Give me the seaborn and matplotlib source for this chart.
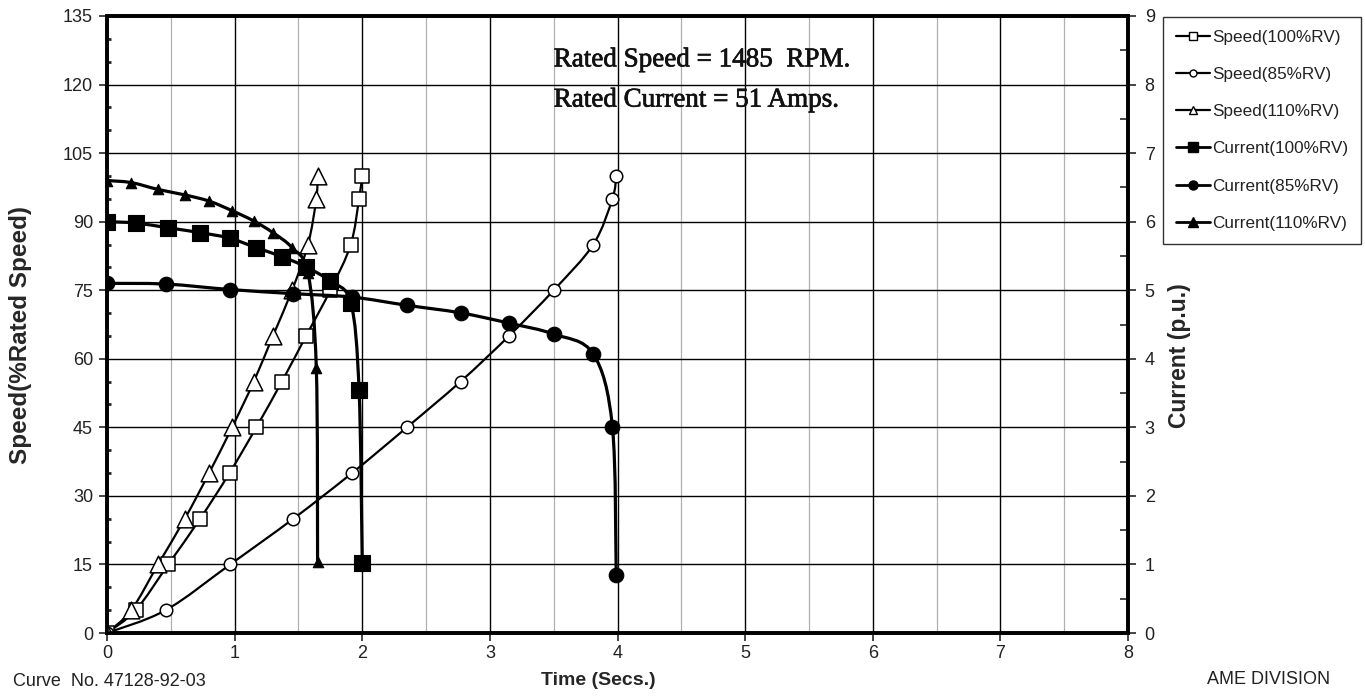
import numpy as np
import pandas as pd
import matplotlib
matplotlib.use("Agg")
import matplotlib.pyplot as plt
from matplotlib.path import Path
from matplotlib.patches import PathPatch
from matplotlib.lines import Line2D
from matplotlib.ticker import MultipleLocator
import matplotlib.patheffects as pe
import seaborn as sns

# ---------------- data ----------------
speed_levels = [0, 5, 15, 25, 35, 45, 55, 65, 75, 85, 95, 100]

time_100 = [0, 0.225, 0.48, 0.73, 0.96, 1.17, 1.37, 1.56, 1.75, 1.91, 1.975, 2.0]
speed_100 = speed_levels
current_100 = [6.0, 5.98, 5.91, 5.84, 5.76, 5.62, 5.49, 5.34, 5.13, 4.82, 3.55, 1.02]

time_85 = [0, 0.46, 0.965, 1.46, 1.92, 2.35, 2.77, 3.15, 3.50, 3.81, 3.96, 3.99]
speed_85 = speed_levels
current_85 = [5.10, 5.09, 5.01, 4.95, 4.90, 4.78, 4.67, 4.52, 4.36, 4.07, 3.01, 0.85]

time_110 = [0, 0.19, 0.40, 0.61, 0.80, 0.98, 1.15, 1.30, 1.45, 1.575, 1.64, 1.65]
speed_110 = speed_levels
current_110 = [6.6, 6.57, 6.47, 6.39, 6.30, 6.16, 6.01, 5.84, 5.62, 5.25, 3.87, 1.04]

series_names = ["Speed(100%RV)", "Speed(85%RV)", "Speed(110%RV)",
                "Current(100%RV)", "Current(85%RV)", "Current(110%RV)"]
x_ticks = [0, 1, 2, 3, 4, 5, 6, 7, 8]
left_ticks = list(range(0, 136, 15))
right_ticks = list(range(0, 10))
note_lines = ["Rated Speed = 1485  RPM.", "Rated Current = 51 Amps."]

# ---------------- style ----------------
sns.set_style("white")
plt.rcParams["font.family"] = ["Liberation Sans", "DejaVu Sans"]

fig = plt.figure(figsize=(13.65, 6.97), dpi=100)
ax = fig.add_axes([107/1365, 1-633/697, (1128-107)/1365, (633-16)/697])
ax2 = ax.twinx()


def smooth_path(x, y, transform, lw):
    """Excel-like smoothed line (Catmull-Rom rendered as cubic Bezier)."""
    p = np.column_stack([x, y]).astype(float)
    n = len(p)
    verts = [p[0]]
    codes = [Path.MOVETO]
    for i in range(n - 1):
        p0 = p[i - 1] if i > 0 else p[i]
        p1 = p[i]
        p2 = p[i + 1]
        p3 = p[i + 2] if i + 2 < n else p[i + 1]
        c1 = p1 + (p2 - p0) / 6.0
        c2 = p2 - (p3 - p1) / 6.0
        verts += [c1, c2, p2]
        codes += [Path.CURVE4] * 3
    return PathPatch(Path(verts, codes), fill=False, edgecolor="black",
                     lw=lw, transform=transform, zorder=3)


speed_specs = [
    (time_100, speed_100, "s", 10.5),
    (time_85, speed_85, "o", 9),
    (time_110, speed_110, "^", 12),
]
current_specs = [
    (time_100, current_100, "s", 11),
    (time_85, current_85, "o", 10.5),
    (time_110, current_110, "^", 7.5),
]

for (t, v, m, ms), name in zip(speed_specs, series_names[:3]):
    ax.add_patch(smooth_path(t, v, ax.transData, 1.6))
    df = pd.DataFrame({"t": t, "v": v})
    sns.scatterplot(data=df, x="t", y="v", ax=ax, marker=m, s=ms**2,
                    facecolor="white", edgecolor="black", linewidth=1.1,
                    zorder=4, legend=False)

for (t, v, m, ms), name in zip(current_specs, series_names[3:]):
    ax2.add_patch(smooth_path(t, v, ax2.transData, 2.3))
    df = pd.DataFrame({"t": t, "v": v})
    sns.scatterplot(data=df, x="t", y="v", ax=ax2, marker=m, s=ms**2,
                    color="black", edgecolor="black", linewidth=0.8,
                    zorder=4, legend=False)

# ---------------- axes ----------------
ax.set_xlim(0, 8)
ax.set_ylim(0, 135)
ax2.set_ylim(0, 9)
ax.set_xticks(x_ticks)
ax.set_yticks(left_ticks)
ax2.set_yticks(right_ticks)
ax.xaxis.set_minor_locator(MultipleLocator(0.5))
ax.yaxis.set_minor_locator(MultipleLocator(5))
ax2.yaxis.set_minor_locator(MultipleLocator(0.5))

ax.grid(True, which="major", axis="both", color="black", lw=1.0)
ax.grid(True, which="minor", axis="x", color="#b0b0b0", lw=0.9)
ax2.grid(False)

for a in (ax, ax2):
    for s in a.spines.values():
        s.set_linewidth(2.6)
        s.set_color("black")

ax.tick_params(axis="y", which="major", direction="out", length=6, width=1.2,
               labelsize=13, labelcolor="#222222", pad=4, left=True)
ax.tick_params(axis="y", which="minor", direction="in", length=3, width=2,
               left=True)
ax.tick_params(axis="x", which="major", direction="out", length=6, width=1.2,
               labelsize=13, labelcolor="#222222", pad=3, bottom=True)
ax.tick_params(axis="x", which="minor", bottom=False)
ax2.tick_params(axis="y", which="major", direction="out", length=6, width=1.2,
                labelsize=13, labelcolor="#222222", pad=6, right=True)
ax2.tick_params(axis="y", which="minor", direction="in", length=6, width=1.2,
                right=True)

ax.set_xlabel("Time (Secs.)", fontsize=14, fontweight="bold")
ax.xaxis.set_label_coords(0.481, -0.063)
ax.set_ylabel("Speed(%Rated Speed)", fontsize=17.5, fontweight="bold")
ax.yaxis.set_label_coords(-0.073, 0.483)
ax2.set_ylabel("Current (p.u.)", fontsize=16.5, fontweight="bold")
ax2.yaxis.set_label_coords(1.039, 0.449)

# annotation text
for yv, line in zip([125.4, 116.6], note_lines):
    ax.text(3.5, yv, line, family=["Liberation Serif", "DejaVu Serif"],
            fontsize=19.5, ha="left", va="center", zorder=5, color="#111111",
            path_effects=[pe.withStroke(linewidth=0.5, foreground="#111111")])

# legend
handles = [
    Line2D([0], [0], color="black", lw=1.6, marker="s", markersize=6,
           markerfacecolor="white", markeredgecolor="black"),
    Line2D([0], [0], color="black", lw=1.6, marker="o", markersize=5,
           markerfacecolor="white", markeredgecolor="black"),
    Line2D([0], [0], color="black", lw=1.6, marker="^", markersize=6,
           markerfacecolor="white", markeredgecolor="black"),
    Line2D([0], [0], color="black", lw=2.0, marker="s", markersize=6.5,
           markerfacecolor="black", markeredgecolor="black"),
    Line2D([0], [0], color="black", lw=2.0, marker="o", markersize=6.5,
           markerfacecolor="black", markeredgecolor="black"),
    Line2D([0], [0], color="black", lw=2.0, marker="^", markersize=6.5,
           markerfacecolor="black", markeredgecolor="black"),
]
leg = fig.legend(handles, series_names, loc="upper left",
                 bbox_to_anchor=(1163/1365, 1-17/697), fontsize=12.3,
                 frameon=True, fancybox=False, edgecolor="black",
                 labelspacing=1.3, handlelength=2.0, handletextpad=0.15,
                 borderpad=0.75, borderaxespad=0)
leg.get_frame().set_linewidth(1.0)
for txt in leg.get_texts():
    txt.set_color("#222222")

# footer texts
fig.text(13/1365, 1-682/697, "Curve  No. 47128-92-03", fontsize=13,
         ha="left", va="center", color="#222222")
fig.text(1207/1365, 1-680/697, "AME DIVISION", fontsize=13,
         ha="left", va="center", color="#222222")

fig.savefig("out.png", dpi=100)
